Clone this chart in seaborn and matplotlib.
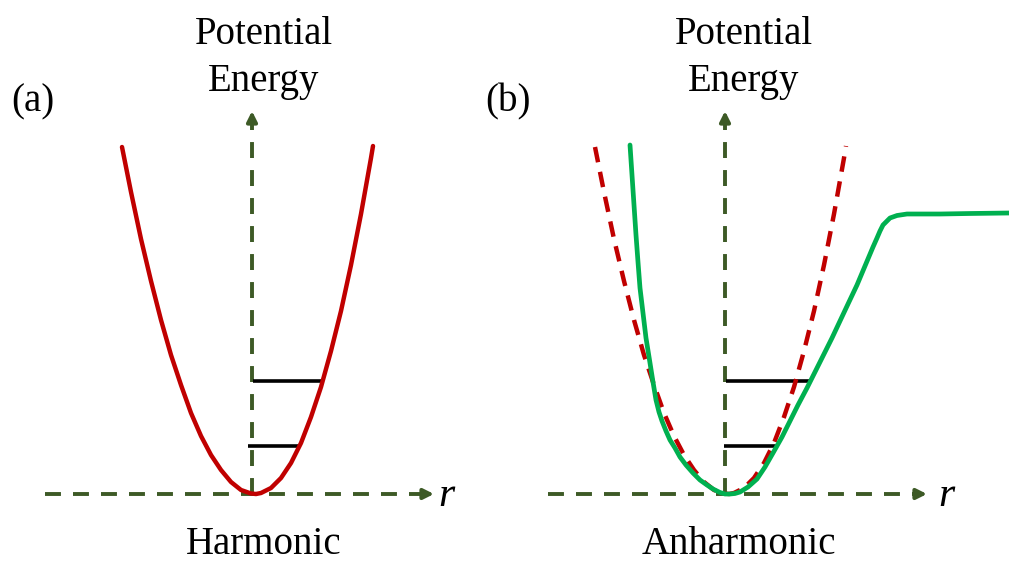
import matplotlib
matplotlib.use("Agg")
import matplotlib.pyplot as plt
import seaborn as sns
import pandas as pd

sns.set_theme(style="white")
plt.rcParams['font.family'] = ['Liberation Serif', 'DejaVu Serif']
plt.rcParams['text.color'] = 'black'

# ---- data (diagram units: pixels of the reference, y downward) ----
# harmonic potential (panel a)
harm_x = [122, 131, 141, 151, 161, 171, 181, 191, 201, 211, 221, 231, 241, 251, 256,
          261, 271, 281, 291, 301, 311, 321, 331, 341, 351, 361, 371, 373]
harm_y = [147, 192, 239, 281, 320, 355, 385, 413, 436, 455, 470, 482, 490, 493.5, 494,
          493, 488, 478, 463, 443, 417, 387, 351, 311, 265, 214, 158, 146]
panel_b_shift = 473   # same harmonic curve, redrawn dashed in panel b

# anharmonic (green) curve, panel b
anh_x = [630, 632, 634, 636, 638, 640, 643, 646, 650, 653, 656, 659, 662, 666, 670, 675, 680,
         686, 693, 700, 707, 713, 720, 725, 730, 735, 740, 748, 757, 765, 773, 782, 790, 798,
         807, 815, 823, 832, 840, 848, 857, 865, 873, 877, 880, 883, 887, 890, 897, 907, 920,
         940, 970, 1009]
anh_y = [145, 175, 205, 235, 262, 288, 313, 338, 363, 382, 400, 412, 421, 431, 440, 448, 457,
         465, 473, 480, 485, 489, 492.5, 494, 494, 493.5, 492, 487, 479, 467, 453, 437, 421, 405,
         388, 372, 356, 338, 321, 304, 285, 266, 247, 238, 231, 225, 221, 218, 215.5, 214, 214,
         214, 213.5, 213]

# energy levels: (y, x_start, x_end)
levels_a = [(381, 253, 322), (446, 248, 300)]
levels_b = [(381, 726, 810), (446, 724, 777)]

axis_color = "#3d5a26"
red = "#c00000"
green = "#00b050"

fig = plt.figure(figsize=(10.09, 5.62), dpi=100)
ax = fig.add_axes([0, 0, 1, 1])
ax.set_xlim(0, 1009)
ax.set_ylim(562, 0)
ax.axis("off")

alw = 2.8
dash_axis = (4.1, 3.1)

def draw_axes(x0, x1, xv, y0, ytop):
    ax.plot([x0, x1 - 8], [y0, y0], color=axis_color, lw=alw, dashes=dash_axis, zorder=1)
    ax.annotate("", xy=(x1, y0), xytext=(x1 - 12, y0),
                arrowprops=dict(arrowstyle="-|>,head_length=0.5,head_width=0.25",
                                color=axis_color, lw=alw, shrinkA=0, shrinkB=0))
    ax.plot([xv, xv], [y0, ytop + 8], color=axis_color, lw=alw, dashes=dash_axis, zorder=1)
    ax.annotate("", xy=(xv, ytop), xytext=(xv, ytop + 12),
                arrowprops=dict(arrowstyle="-|>,head_length=0.5,head_width=0.25",
                                color=axis_color, lw=alw, shrinkA=0, shrinkB=0))

draw_axes(45, 434, 252, 494, 111)
draw_axes(548, 927, 725, 494, 111)

# panel (a) harmonic
dfa = pd.DataFrame({"x": harm_x, "y": harm_y})
sns.lineplot(data=dfa, x="x", y="y", sort=False, estimator=None, color=red, lw=3.2, ax=ax, zorder=3)

# panel (b) harmonic dashed
dfb = pd.DataFrame({"x": [x + panel_b_shift for x in harm_x], "y": harm_y})
sns.lineplot(data=dfb, x="x", y="y", sort=False, estimator=None, color=red, lw=3.2, ax=ax,
             zorder=3)
ax.lines[-1].set_dashes((3.5, 2.2))

# anharmonic
dfg = pd.DataFrame({"x": anh_x, "y": anh_y})
sns.lineplot(data=dfg, x="x", y="y", sort=False, estimator=None, color=green, lw=3.4, ax=ax, zorder=4)

for (y, xs, xe) in levels_a + levels_b:
    ax.plot([xs, xe], [y, y], color="black", lw=2.6, solid_capstyle="butt", zorder=2)

ax.set_xlabel("")
ax.set_ylabel("")

fs = 28
for cx in (264, 744):
    ax.text(cx, 34, "Potential", ha="center", va="center", fontsize=fs, color="black")
    ax.text(cx, 81, "Energy", ha="center", va="center", fontsize=fs, color="black")
ax.text(33, 102, "(a)", ha="center", va="center", fontsize=fs, color="black")
ax.text(508, 102, "(b)", ha="center", va="center", fontsize=fs, color="black")
ax.text(264, 545, "Harmonic", ha="center", va="center", fontsize=fs, color="black")
ax.text(739, 545, "Anharmonic", ha="center", va="center", fontsize=fs, color="black")
ax.text(446, 496, "r", ha="center", va="center", fontsize=30, style="italic", color="black")
ax.text(946, 496, "r", ha="center", va="center", fontsize=30, style="italic", color="black")

fig.savefig("out.png", dpi=100)
